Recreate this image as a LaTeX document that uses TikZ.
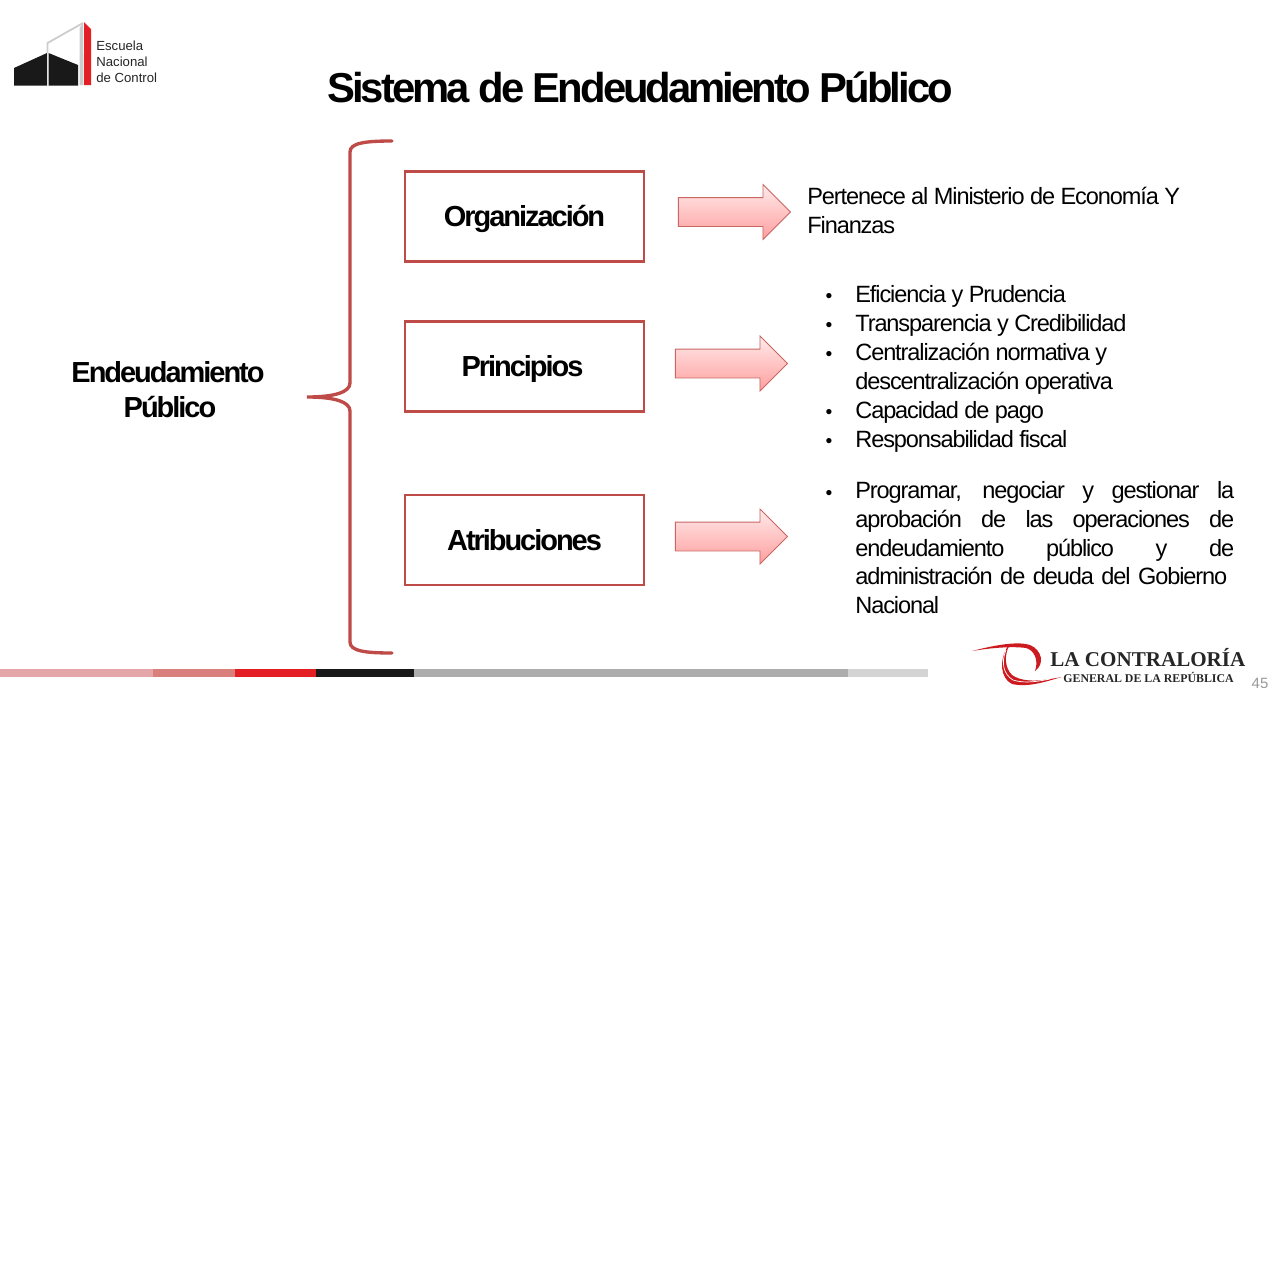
\documentclass[tikz,border=0pt]{standalone}
\usepackage{fontspec}
\setmainfont{Liberation Sans}
\newfontfamily\titlefont[LetterSpace=-7.1]{Liberation Sans}
\newfontfamily\boxfont[LetterSpace=-7]{Liberation Sans}
\newfontfamily\bodyfont[LetterSpace=-4.7]{Liberation Sans}
\newfontfamily\logofont{Liberation Serif}
\usepackage{tikz}
\usetikzlibrary{shapes.arrows}
\definecolor{boxred}{HTML}{BE4B48}
\definecolor{logored}{HTML}{E31E24}
\definecolor{barone}{HTML}{E5A6A9}
\definecolor{bartwo}{HTML}{D97F7C}
\tikzset{
  boxnode/.style={draw=boxred, line width=1.6pt, fill=white, minimum width=4.78cm, minimum height=1.8cm,
    inner sep=0pt, text height=0.55cm, text depth=0.15cm, font=\boxfont\fontsize{16.5}{20}\bfseries\selectfont},
  arrownode/.style={single arrow, draw=boxred!85, line width=0.5pt, top color=red!8, bottom color=red!38,
    shape border rotate=0, single arrow head extend=0.26cm, single arrow head indent=0pt,
    inner xsep=0pt, inner ysep=0.28cm, minimum height=2.24cm, minimum width=1.05cm, anchor=tip},
  leadnode/.style={font=\boxfont\fontsize{16.5}{20}\bfseries\selectfont, align=center, inner sep=0pt},
  bodynode/.style={font=\bodyfont\fontsize{13.4}{16.5}\selectfont, anchor=base west, inner sep=0pt},
  bulletnode/.style={font=\fontsize{11}{12}\selectfont, anchor=base, inner sep=0pt},
}
\begin{document}
\begin{tikzpicture}[x=0.02cm, y=-0.02cm]
  \useasboundingbox (0,0) rectangle (1277,1278);
  \fill[white] (0,0) rectangle (1277,1278);

  % school logo
  \fill[black!90] (14,68) -- (47,53) -- (47,85.5) -- (14,85.5) -- cycle;
  \fill[black!90] (48.5,53) -- (78,65) -- (78,85.5) -- (48.5,85.5) -- cycle;
  \draw[black!20, line width=1pt] (47.5,53) -- (47.5,43) -- (83,23);
  \fill[black!20] (79.5,28) -- (83,23) -- (83.5,85) -- (79.5,85) -- cycle;
  \fill[logored] (84,22) -- (91,29) -- (91,85) -- (84,85) -- cycle;
  \node[anchor=north west, inner sep=0pt, align=left, text=black!85, font=\fontsize{7.5}{9}\selectfont] (school) at (96,41) {Escuela\\Nacional\\de Control};

  % title
  \node[font=\titlefont\fontsize{23.8}{28}\bfseries\selectfont, inner sep=0pt] (title) at (640,87) {Sistema de Endeudamiento Público};

  % left label and brace
  \node[leadnode] (lead) at (168,389.5) {Endeudamiento\\\hspace{0.08cm}Público};
  \draw[boxred, line width=1.9pt, line cap=round]
    (392,141) .. controls (365,141) and (350,143) .. (350,152) -- (350,383)
    .. controls (350,392) and (335,397) .. (307,397)
    .. controls (335,397) and (350,402) .. (350,411) -- (350,642)
    .. controls (350,651) and (365,653) .. (392,653);

  % boxes
  \node[boxnode] (org) at (524.5,216.5) {Organización};
  \node[boxnode] (prin) at (524.5,366.5) {\hspace{-0.08cm}Principios};
  \node[boxnode] (atri) at (524.5,540) {Atribuciones};

  % arrows
  \node[arrownode] (arrowa) at (791,212) {};
  \node[arrownode] (arrowb) at (788,363.5) {};
  \node[arrownode] (arrowc) at (788,536.5) {};

  % right texts
  \node[bodynode] (perta) at (807,204) {Pertenece al Ministerio de Economía Y};
  \node[bodynode] (pertb) at (807,233) {Finanzas};

  \node[bulletnode] (bula) at (829,302) {•};
  \node[bodynode] (pria) at (855,302) {Eficiencia y Prudencia};
  \node[bulletnode] (bulb) at (829,331) {•};
  \node[bodynode] (prib) at (855,331) {Transparencia y Credibilidad};
  \node[bulletnode] (bulc) at (829,360) {•};
  \node[bodynode] (pric) at (855,360) {Centralización normativa y};
  \node[bodynode] (prid) at (855,389) {descentralización operativa};
  \node[bulletnode] (buld) at (829,418) {•};
  \node[bodynode] (prie) at (855,418) {Capacidad de pago};
  \node[bulletnode] (bule) at (829,447) {•};
  \node[bodynode] (prif) at (855,447) {Responsabilidad fiscal};

  \node[bulletnode] (bulf) at (829,499) {•};
  \node[anchor=north west, inner sep=0pt, text width=7.58cm, align=justify, font=\bodyfont\fontsize{13.4}{16.4}\selectfont] (atritext) at (855,481)
    {Programar, negociar y gestionar la\linebreak aprobación de las operaciones de\linebreak endeudamiento público y de\linebreak \makebox[7.44cm][s]{administración de deuda del Gobierno}\\Nacional};

  % footer bar
  \fill[barone] (0,669) rectangle (153,677);
  \fill[bartwo] (153,669) rectangle (235,677);
  \fill[logored] (235,669) rectangle (316,677);
  \fill[black!90] (316,669) rectangle (414,677);
  \fill[black!32] (414,669) rectangle (848,677);
  \fill[black!17] (848,669) rectangle (928,677);

  % contraloria logo
  \fill[logored!90!black] (972,651) .. controls (995,645) and (1018,641) .. (1030,645)
    .. controls (1042,650) and (1045,664) .. (1035,671) .. controls (1039,660) and (1034,650) .. (1026,648)
    .. controls (1012,646) and (990,648) .. (972,651) -- cycle;
  \fill[logored!90!black] (1008,646) .. controls (999,660) and (1000,678) .. (1012,684)
    .. controls (1030,688) and (1050,680) .. (1062,677) .. controls (1045,680) and (1025,684) .. (1012,675)
    .. controls (1005,668) and (1004,656) .. (1009,646) -- cycle;
  \draw[white, line width=0.4pt] (1006,650) .. controls (1001,662) and (1003,674) .. (1013,680)
    .. controls (1025,684) and (1040,681) .. (1050,679);
  \node[anchor=base west, inner sep=0pt, font=\logofont\fontsize{12}{15}\bfseries\selectfont, text=black!85] (lacon) at (1050,666) {LA CONTRALORÍA};
  \node[anchor=base west, inner sep=0pt, font=\logofont\fontsize{6.75}{9}\bfseries\selectfont, text=black!85] (general) at (1063,682) {GENERAL DE LA REPÚBLICA};
  \node[anchor=base, inner sep=0pt, font=\fontsize{8.5}{10}\selectfont, text=black!40] (page) at (1260,688) {45};
\end{tikzpicture}
\end{document}
